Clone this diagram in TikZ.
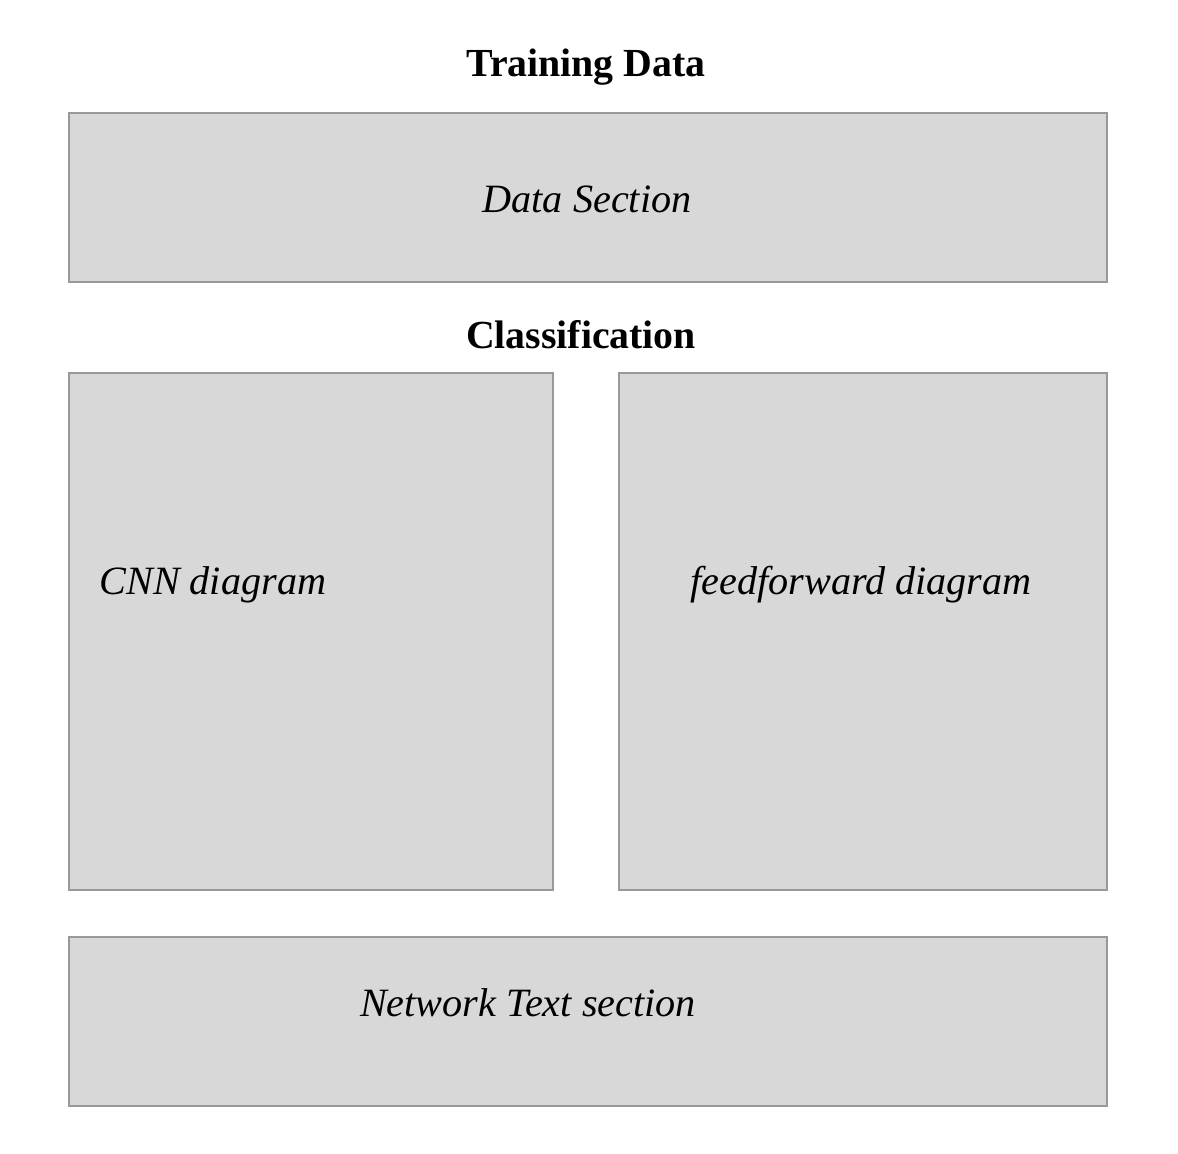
\documentclass[tikz,border=0pt]{standalone}
\usepackage{fontspec}
\setmainfont{Liberation Serif}
\definecolor{boxfill}{HTML}{D8D8D8}
\definecolor{boxline}{HTML}{999999}
\begin{document}
\begin{tikzpicture}[x=0.5pt,y=-0.5pt,
  panel/.style={fill=boxfill,draw=boxline,line width=1pt},
  heading/.style={font=\fontsize{19.9pt}{23pt}\selectfont\bfseries,anchor=base,inner sep=0pt},
  label/.style={font=\fontsize{20.1pt}{23pt}\selectfont\itshape,anchor=base,inner sep=0pt}]
\useasboundingbox (0,0) rectangle (1178,1154);
\fill[white] (0,0) rectangle (1178,1154);
\draw[panel] (69,113) rectangle (1107,282);
\draw[panel] (69,373) rectangle (553,890);
\draw[panel] (619,373) rectangle (1107,890);
\draw[panel] (69,937) rectangle (1107,1106);
\node[heading] (td) at (586,77) {Training Data};
\node[label] (ds) at (587,213) {Data Section};
\node[heading] (cl) at (581,349) {Classification};
\node[label,anchor=base west] (cnn) at (99,595) {CNN diagram};
\node[label] (ff) at (861,595) {feedforward diagram};
\node[label] (nt) at (528,1016) {Network Text section};
\end{tikzpicture}
\end{document}
